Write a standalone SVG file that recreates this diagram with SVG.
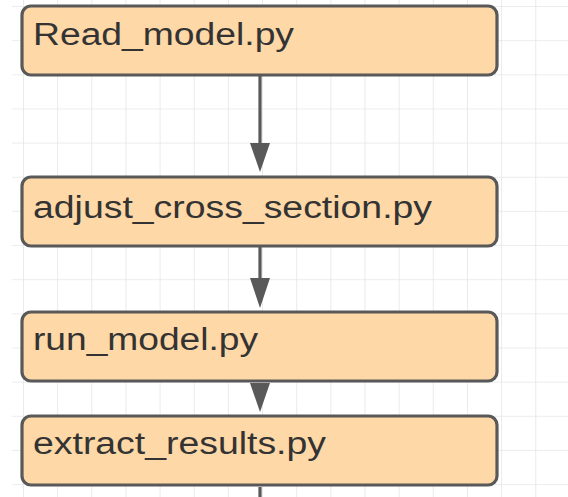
<svg xmlns="http://www.w3.org/2000/svg" width="568" height="497" viewBox="0 0 568 497">
  <defs>
    <pattern id="grid" x="-11.15" y="6" width="34.15" height="34.15" patternUnits="userSpaceOnUse">
      <path d="M0 0H34.15M0 0V34.15" fill="none" stroke="#e6e6e6" stroke-width="1.6"/>
    </pattern>
    <marker id="arrow" viewBox="0 0 20 29" refX="10" refY="29" markerWidth="20" markerHeight="29" markerUnits="userSpaceOnUse" orient="auto-start-reverse">
      <path d="M0 0L20 0L10 29Z" fill="#595959"/>
    </marker>
    <style>
      .box { fill: #fed8a6; stroke: #595959; stroke-width: 3.2; }
      .lbl { font-family: "Liberation Sans", Arial, sans-serif; font-size: 31px; fill: #333333; }
      .edge { stroke: #595959; stroke-width: 3.2; fill: none; }
    </style>
  </defs>
  <rect width="568" height="497" fill="#ffffff"/>
  <rect x="12" y="0" width="556" height="497" fill="url(#grid)"/>

  <g id="connectors">
    <line class="edge" x1="260" y1="76" x2="260" y2="150"/>
    <path d="M250 143L270 143L260 172Z" fill="#595959"/>
    <line class="edge" x1="260" y1="247" x2="260" y2="285"/>
    <path d="M250 278L270 278L260 308Z" fill="#595959"/>
    <path d="M250 383L270 383L260 412Z" fill="#595959"/>
    <line class="edge" x1="260" y1="487" x2="260" y2="497"/>
  </g>

  <g id="read_model">
    <rect class="box" x="22" y="6" width="475" height="69" rx="9"/>
    <text class="lbl" x="33" y="45" textLength="261" lengthAdjust="spacingAndGlyphs">Read_model.py</text>
  </g>
  <g id="adjust_cross_section">
    <rect class="box" x="22" y="177" width="475" height="69" rx="9"/>
    <text class="lbl" x="33" y="218" textLength="399" lengthAdjust="spacingAndGlyphs">adjust_cross_section.py</text>
  </g>
  <g id="run_model">
    <rect class="box" x="22" y="312" width="475" height="69" rx="9"/>
    <text class="lbl" x="33" y="350" textLength="225" lengthAdjust="spacingAndGlyphs">run_model.py</text>
  </g>
  <g id="extract_results">
    <rect class="box" x="22" y="416" width="475" height="69" rx="9"/>
    <text class="lbl" x="33" y="454" textLength="293" lengthAdjust="spacingAndGlyphs">extract_results.py</text>
  </g>
</svg>
